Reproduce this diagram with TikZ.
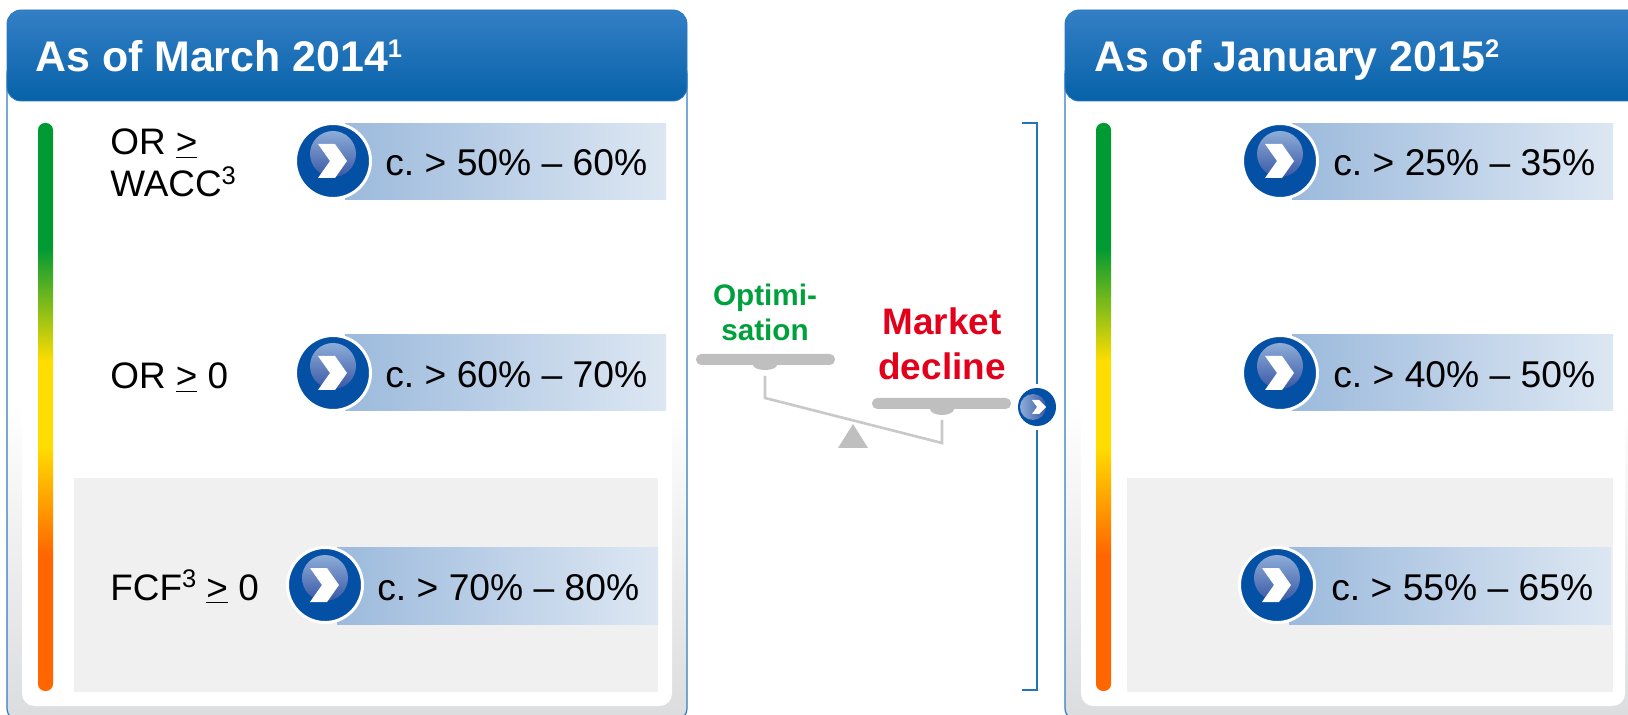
\documentclass[tikz,border=0pt]{standalone}
\usepackage{fontspec}
\setmainfont{Liberation Sans}
\definecolor{bargreen}{HTML}{009A33}
\definecolor{baryellow}{HTML}{FFDD00}
\definecolor{barorange}{HTML}{FF6600}
\definecolor{headtop}{HTML}{347FC6}
\definecolor{headbottom}{HTML}{0662A8}
\definecolor{edgeblue}{HTML}{2F7DBD}
\definecolor{discblue}{HTML}{0350A5}
\definecolor{scalegrey}{HTML}{BFBFBF}
\definecolor{beamgrey}{HTML}{C9C9C9}
\definecolor{glowtop}{HTML}{8DADD8}
\definecolor{glowbottom}{HTML}{3A58A5}
\definecolor{band}{HTML}{9CBADC}
\definecolor{bandlight}{HTML}{DDE7F3}
\definecolor{optgreen}{HTML}{00A03C}
\definecolor{declinered}{HTML}{E2001A}
\definecolor{panelgrey}{HTML}{DBDCDE}
\pgfdeclareverticalshading{ramp}{100bp}{color(0bp)=(barorange); color(37bp)=(barorange); color(46.5bp)=(baryellow); color(54bp)=(baryellow); color(64bp)=(bargreen); color(100bp)=(bargreen)}
\pgfdeclareverticalshading{panelramp}{100bp}{color(0bp)=(panelgrey); color(25bp)=(panelgrey); color(49bp)=(white); color(100bp)=(white)}
\newcommand{\sym}[1]{\raisebox{0.33em}{\fontsize{14.5}{15}\selectfont #1}}
% disc with chevron, #1 = x, #2 = y
\newcommand{\Badge}[3]{
\node[discStyle] (#3) at (#1,#2) {};
\shade[top color = glowtop, bottom color = glowbottom] (#1,#2-7) circle (23);
\fill[white] (#1-15,#2-17) -- (#1+2,#2-17) -- (#1+14,#2) -- (#1+2,#2+17) -- (#1-15,#2+17) -- (#1-3,#2) -- cycle;
}

\begin{document}
\frenchspacing
\begin{tikzpicture}[x = 0.02cm, y = -0.02cm]
\tikzstyle{discStyle}=[shape = circle, minimum size = 1.5cm, inner sep = 0pt, fill = discblue, draw = white, line width = 1.7pt]
\tikzstyle{headStyle}=[anchor = base west, inner sep = 0pt, text = white, font = \fontsize{24.4}{28}\selectfont\bfseries]
\tikzstyle{bandStyle}=[anchor = base west, inner sep = 0pt, font = \fontsize{21.2}{25}\selectfont]
\tikzstyle{rowStyle}=[anchor = base west, inner sep = 0pt, font = \fontsize{21}{25}\selectfont]
\tikzstyle{panStyle}=[fill = scalegrey, rounded corners = 3pt]
\useasboundingbox (0,0) rectangle (1628,715);
\clip (0,0) rectangle (1628,715);
% left panel
\shade[shading = panelramp, draw = edgeblue, line width = 0.7pt, rounded corners = 8pt] (7,60) rectangle (687,722);
\fill[white, rounded corners = 7pt] (22,90) rectangle (672,706);
\shade[top color = headtop, bottom color = headbottom, draw = headtop!80!headbottom, line width = 0.5pt, rounded corners = 8pt] (7,10) rectangle (687,101);
\fill[black!6] (74,478) rectangle (658,692);
\shade[shading = ramp, rounded corners = 4pt] (38,123) rectangle (53,691);
\node[headStyle] (leftHead) at (35,72) {As of March 2014\sym{1}};
\node[rowStyle] (orA) at (110,155) {OR \underline{>}};
\node[rowStyle] (wacc) at (110,197) {WACC\sym{3}};
\node[rowStyle] (orB) at (110,389) {OR \underline{>} 0};
\node[rowStyle] (fcf) at (110,600) {FCF\sym{3} \underline{>} 0};
\shade[left color = band, right color = bandlight] (345,124) rectangle (666,200);
\shade[left color = band, right color = bandlight] (345,335) rectangle (666,411);
\shade[left color = band, right color = bandlight] (337,547) rectangle (658,624);
\Badge{333}{161}{discA}
\Badge{333}{373}{discB}
\Badge{325}{585}{discC}
\node[bandStyle] (valA) at (385,176) {c. > 50\% -- 60\%};
\node[bandStyle] (valB) at (385,388) {c. > 60\% -- 70\%};
\node[bandStyle] (valC) at (377,600) {c. > 70\% -- 80\%};
% scale
\node[anchor = base, inner sep = 0pt, text = optgreen, font = \fontsize{16.9}{19}\selectfont\bfseries] (opt) at (765,306) {Optimi-};
\node[anchor = base, inner sep = 0pt, text = optgreen, font = \fontsize{16.9}{19}\selectfont\bfseries] (sat) at (765,341) {sation};
\node[anchor = base, inner sep = 0pt, text = declinered, font = \fontsize{21}{25}\selectfont\bfseries] (mkt) at (942,335) {Market};
\node[anchor = base, inner sep = 0pt, text = declinered, font = \fontsize{21}{25}\selectfont\bfseries] (dec) at (942,380) {decline};
\fill[scalegrey] (753,365) arc[start angle = 180, end angle = 360, x radius = 12, y radius = -5] -- cycle;
\fill[scalegrey] (930,409) arc[start angle = 180, end angle = 360, x radius = 12, y radius = -6] -- cycle;
\fill[panStyle] (696,354) rectangle (835,365);
\fill[panStyle] (872,398) rectangle (1011,409);
\draw[beamgrey, line width = 1.5pt] (765,376) -- (765,398) -- (942,443) -- (942,420);
\fill[scalegrey] (853,424) -- (868,448) -- (838,448) -- cycle;
% bracket
\coordinate (brA) at (1022,123);
\coordinate (brB) at (1022,690);
\draw[edgeblue!70!headbottom, line width = 0.6pt] (brA) -- (1037,123) -- (1037,690) -- (brB);
\fill[white] (1037,407) circle (23);
\fill[discblue] (1037,407) circle (19);
\shade[left color = glowtop, right color = glowbottom] (1033,407) circle (13);
\fill[white] (1032,400) -- (1039,400) -- (1046,407) -- (1039,414) -- (1032,414) -- (1037,407) -- cycle;
% right panel
\shade[shading = panelramp, draw = edgeblue, line width = 0.7pt, rounded corners = 8pt] (1065,60) rectangle (1660,722);
\fill[white, rounded corners = 7pt] (1081,90) rectangle (1625,706);
\shade[top color = headtop, bottom color = headbottom, draw = headtop!80!headbottom, line width = 0.5pt, rounded corners = 8pt] (1065,10) rectangle (1660,101);
\fill[black!6] (1127,478) rectangle (1613,692);
\shade[shading = ramp, rounded corners = 4pt] (1096,123) rectangle (1111,691);
\node[headStyle] (rightHead) at (1094,72) {As of January 2015\sym{2}};
\shade[left color = band, right color = bandlight] (1292,124) rectangle (1613,200);
\shade[left color = band, right color = bandlight] (1292,335) rectangle (1613,411);
\shade[left color = band, right color = bandlight] (1289,547) rectangle (1611,624);
\Badge{1280}{161}{discD}
\Badge{1280}{373}{discE}
\Badge{1277}{585}{discF}
\node[bandStyle] (valD) at (1333,176) {c. > 25\% -- 35\%};
\node[bandStyle] (valE) at (1333,388) {c. > 40\% -- 50\%};
\node[bandStyle] (valF) at (1331,600) {c. > 55\% -- 65\%};
\end{tikzpicture}
\end{document}
